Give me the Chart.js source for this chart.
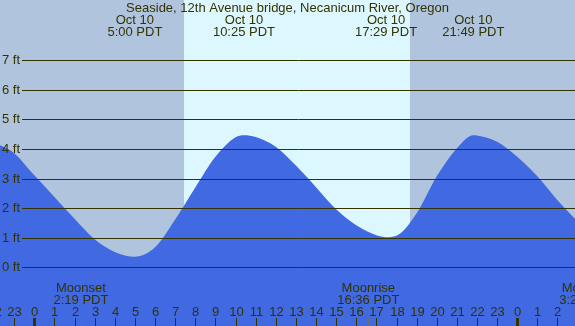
<!DOCTYPE html>
<html>
<head>
<meta charset="utf-8">
<script src="https://cdn.jsdelivr.net/npm/chart.js@4.4.1/dist/chart.umd.min.js"></script>
<style>
  html, body { margin: 0; padding: 0; background: #b0c4de; }
  #wrap { width: 575px; height: 326px; position: relative; }
</style>
</head>
<body>
<div id="wrap"><canvas id="tideChart"></canvas></div>
<script>
// ===== DATA =====
const titleText = "Seaside, 12th Avenue bridge, Necanicum River, Oregon";

// hours since midnight Oct 10 (negative = Oct 9, >24 = Oct 11)
const tideHours = [-2, -1, 0, 1, 2, 3, 4, 5, 6, 7, 8, 9, 10, 10.42, 11, 12, 13, 14, 15, 16, 17, 17.48, 18, 19, 20, 21, 21.82, 22, 23, 24, 25, 26, 27];
const tideFeet  = [4.22, 3.86, 3.11, 2.38, 1.64, 0.95, 0.52, 0.36, 0.68, 1.62, 2.70, 3.74, 4.40, 4.47, 4.41, 4.08, 3.44, 2.71, 1.96, 1.42, 1.08, 1.02, 1.07, 1.83, 3.08, 4.03, 4.47, 4.46, 4.25, 3.74, 3.08, 2.27, 1.55];

const extremeHours = [5.0, 10.42, 17.48, 21.82];
const extremeDates = ["Oct 10", "Oct 10", "Oct 10", "Oct 10"];
const extremeTimes = ["5:00 PDT", "10:25 PDT", "17:29 PDT", "21:49 PDT"];

const moonHours = [2.32, 16.6, 27.45];
const moonNames = ["Moonset", "Moonrise", "Moonset"];
const moonTimes = ["2:19 PDT", "16:36 PDT", "3:27 PDT"];

const sunrise = 7.44;
const sunset = 18.67;

const feetTicks = [0, 1, 2, 3, 4, 5, 6, 7];
const hourTicks = [-2, -1, 0, 1, 2, 3, 4, 5, 6, 7, 8, 9, 10, 11, 12, 13, 14, 15, 16, 17, 18, 19, 20, 21, 22, 23, 24, 25, 26, 27];
const hourLabels = ["22", "23", "0", "1", "2", "3", "4", "5", "6", "7", "8", "9", "10", "11", "12", "13", "14", "15", "16", "17", "18", "19", "20", "21", "22", "23", "0", "1", "2", "3"];
const midnightHours = [0, 24];

// ===== STYLE =====
const nightColor = "#b0c4de";
const dayColor = "#ddf7ff";
const waterColor = "#4169e1";
const inkColor = "#333300";
const font = '13px "Liberation Sans", Arial, sans-serif';

// backgrounds (day / night bands)
const bandsPlugin = {
  id: "bands",
  beforeDatasetsDraw(chart) {
    const { ctx, chartArea: a, scales: { x } } = chart;
    ctx.save();
    ctx.fillStyle = nightColor;
    ctx.fillRect(a.left, a.top, a.right - a.left, a.bottom - a.top);
    const x0 = Math.round(x.getPixelForValue(sunrise));
    const x1 = Math.round(x.getPixelForValue(sunset));
    ctx.fillStyle = dayColor;
    ctx.fillRect(x0, a.top, x1 - x0, a.bottom - a.top);
    ctx.restore();
  }
};

// grid lines, labels, ticks on top of the water
const overlayPlugin = {
  id: "overlay",
  afterDatasetsDraw(chart) {
    const { ctx, chartArea: a, scales: { x, y } } = chart;
    ctx.save();
    ctx.font = font;
    ctx.fillStyle = inkColor;
    ctx.strokeStyle = inkColor;

    // feet lines + labels
    ctx.lineWidth = 1;
    feetTicks.forEach(ft => {
      const py = Math.round(y.getPixelForValue(ft)) + 0.5;
      ctx.beginPath();
      ctx.moveTo(22, py);
      ctx.lineTo(a.right, py);
      ctx.stroke();
      ctx.textAlign = "left";
      ctx.textBaseline = "middle";
      ctx.fillText(ft + " ft", 2, py);
    });

    // title + high/low labels
    ctx.textAlign = "center";
    ctx.textBaseline = "middle";
    ctx.fillText(titleText, (a.left + a.right) / 2, 8);
    extremeHours.forEach((h, i) => {
      const px = x.getPixelForValue(h);
      ctx.fillText(extremeDates[i], px, 20);
      ctx.fillText(extremeTimes[i], px, 32);
    });

    // moon events
    moonHours.forEach((h, i) => {
      const px = x.getPixelForValue(h);
      ctx.fillText(moonNames[i], px, 288);
      ctx.fillText(moonTimes[i], px, 300);
      ctx.save();
      ctx.strokeStyle = "#6e6e6e";
      ctx.beginPath();
      ctx.moveTo(Math.round(px) + 0.5, 318);
      ctx.lineTo(Math.round(px) + 0.5, a.bottom);
      ctx.stroke();
      ctx.restore();
    });

    // hour labels + ticks
    hourTicks.forEach((h, i) => {
      const px = Math.round(x.getPixelForValue(h));
      ctx.fillText(hourLabels[i], px + 0.5, 312);
      const w = midnightHours.includes(h) ? 3 : 1;
      ctx.fillRect(px - (w - 1) / 2, 318, w, a.bottom - 318);
    });
    ctx.restore();
  }
};

const ctx = document.getElementById("tideChart").getContext("2d");
new Chart(ctx, {
  type: "line",
  data: {
    datasets: [{
      data: tideHours.map((h, i) => ({ x: h, y: tideFeet[i] })),
      fill: "start",
      backgroundColor: waterColor,
      borderWidth: 0,
      borderColor: waterColor,
      pointRadius: 0,
      cubicInterpolationMode: "monotone"
    }]
  },
  options: {
    responsive: true,
    maintainAspectRatio: false,
    animation: false,
    events: [],
    layout: { padding: 0 },
    plugins: { legend: { display: false }, tooltip: { enabled: false } },
    scales: {
      x: { type: "linear", min: -1.704, max: 26.87, display: false },
      y: { type: "linear", min: -1.985, max: 9.04, display: false }
    }
  },
  plugins: [bandsPlugin, overlayPlugin]
});
</script>
</body>
</html>
